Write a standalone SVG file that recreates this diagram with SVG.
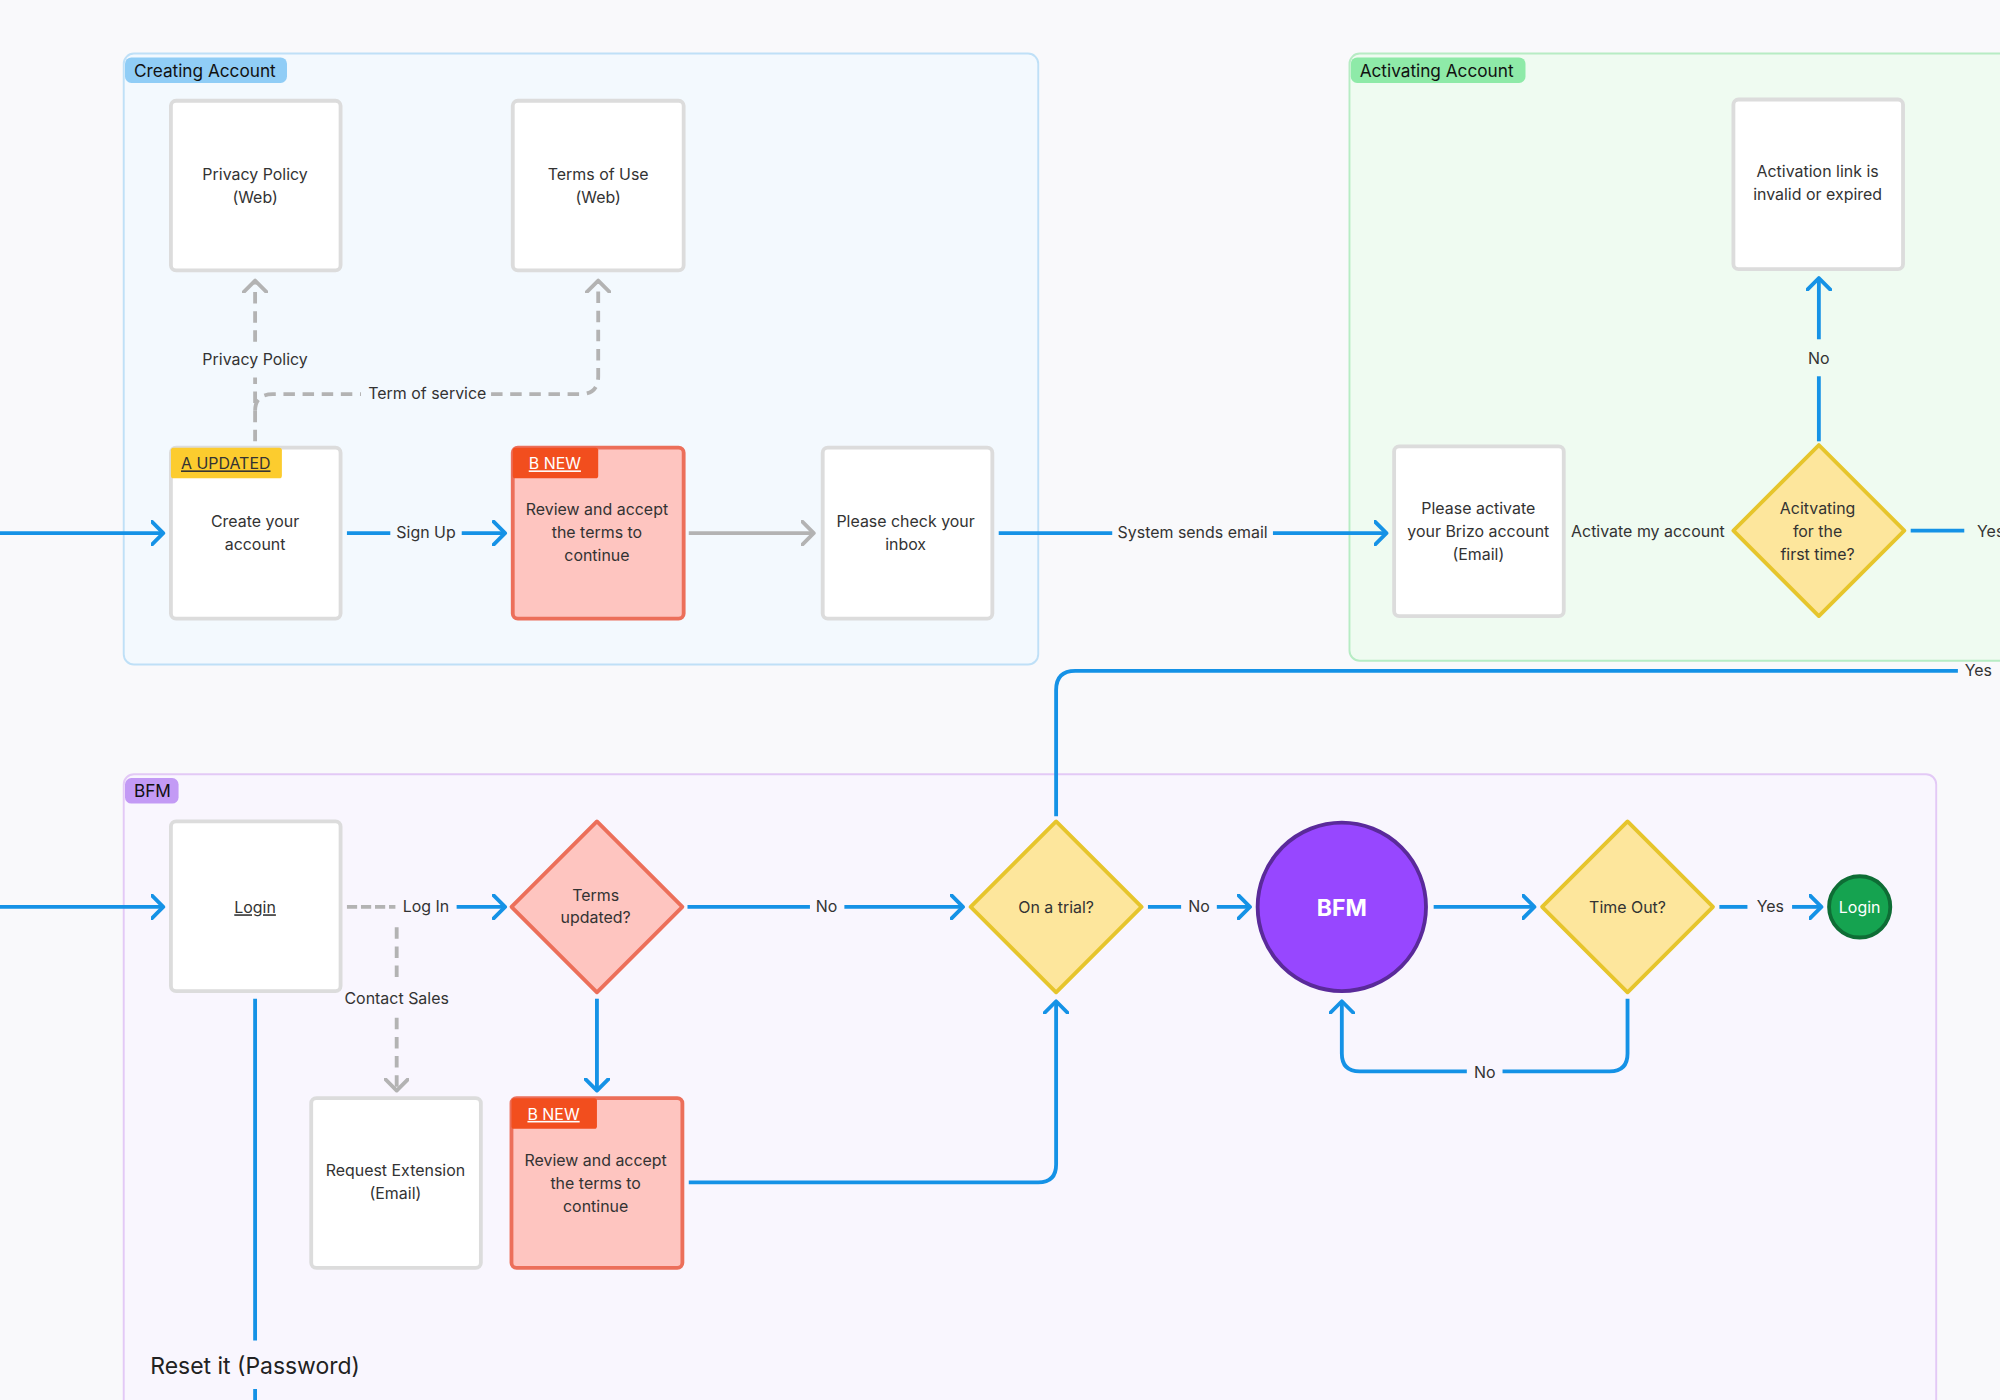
<svg xmlns="http://www.w3.org/2000/svg" width="2000" height="1400" viewBox="0 0 2000 1400">
<defs>
<marker id="ab" markerUnits="userSpaceOnUse" viewBox="0 0 12 20" markerWidth="12" markerHeight="20" refX="10" refY="10" orient="auto"><path d="M1,1 L10,10 L1,19" fill="none" stroke="#1592e6" stroke-width="3" stroke-linecap="round" stroke-linejoin="round"/></marker>
<marker id="ag" markerUnits="userSpaceOnUse" viewBox="0 0 12 20" markerWidth="12" markerHeight="20" refX="10" refY="10" orient="auto"><path d="M1,1 L10,10 L1,19" fill="none" stroke="#b3b3b3" stroke-width="3" stroke-linecap="round" stroke-linejoin="round"/></marker>
<style>
text{font-family:Inter,"Noto Sans",sans-serif;font-size:12.5px;fill:#333;text-anchor:middle}
.box{fill:#fff;stroke:#dcdcdc;stroke-width:3}
.red{fill:#fec5c0;stroke:#ec6f5a;stroke-width:3}
.yel{fill:#fde69c;stroke:#e6c52c;stroke-width:3}
.b{fill:none;stroke:#1592e6;stroke-width:3}
.g{fill:none;stroke:#b3b3b3;stroke-width:3;stroke-dasharray:9 6}
.gs{fill:none;stroke:#b3b3b3;stroke-width:3}
.tag{font-size:13.5px;text-anchor:start;fill:#111}
</style>
</defs>
<rect width="2000" height="1400" fill="#f9f9fb"/>
<g transform="scale(1.2755)">
<g id="grp-creating">
<rect x="97" y="42" width="717" height="479" rx="8" fill="#f3f9fe" stroke="#bfe0f7" stroke-width="1.5"/>
<rect x="98" y="45" width="127" height="20" rx="5" fill="#90cdf6"/>
<text x="105" y="60" class="tag">Creating Account</text>
</g>
<g id="grp-activating">
<rect x="1058" y="42" width="540" height="476" rx="8" fill="#effbf1" stroke="#b7ecc4" stroke-width="1.5"/>
<rect x="1059" y="45" width="137" height="20" rx="5" fill="#8eeaa8"/>
<text x="1066" y="60" class="tag">Activating Account</text>
</g>
<g id="grp-bfm">
<rect x="97" y="607" width="1421" height="520" rx="8" fill="#f9f6fe" stroke="#e3c9f6" stroke-width="1.5"/>
<rect x="98" y="610" width="42" height="20" rx="5" fill="#c39af5"/>
<text x="105" y="625" class="tag">BFM</text>
</g>

<g id="connectors">
<path class="b" d="M0,418 H128" marker-end="url(#ab)"/>
<path class="b" d="M272,418 H306"/><path class="b" d="M362,418 H396" marker-end="url(#ab)"/>
<path class="gs" d="M540,418 H638" marker-end="url(#ag)"/>
<path class="b" d="M783,418 H872"/><path class="b" d="M998,418 H1087" marker-end="url(#ab)"/>
<path class="b" d="M1498,416 H1540"/>
<path class="b" d="M1426,346 V295"/><path class="b" d="M1426,266 V218" marker-end="url(#ab)"/>
<path class="b" d="M828,640 V541 Q828,526 843,526 H1535"/>
<path class="g" d="M200,346 V296"/><path class="g" d="M200,268 V220" marker-end="url(#ag)"/>
<path class="g" d="M200,322 Q200,309 214,309 H283"/><path class="g" d="M385,309 H455 Q469,309 469,295 V220" marker-end="url(#ag)"/>
<path class="b" d="M0,711 H128" marker-end="url(#ab)"/>
<path class="gs" d="M272,711 H310" stroke-dasharray="8 3"/><path class="b" d="M358,711 H396" marker-end="url(#ab)"/>
<path class="g" d="M311,727 V769"/><path class="g" d="M311,798 V855" marker-end="url(#ag)"/>
<path class="b" d="M539,711 H635"/><path class="b" d="M662,711 H755" marker-end="url(#ab)"/>
<path class="b" d="M468,783 V855" marker-end="url(#ab)"/>
<path class="b" d="M540,927 H814 Q828,927 828,913 V785" marker-end="url(#ab)"/>
<path class="b" d="M900,711 H926"/><path class="b" d="M954,711 H980" marker-end="url(#ab)"/>
<path class="b" d="M1124,711 H1203" marker-end="url(#ab)"/>
<path class="b" d="M1348,711 H1370"/><path class="b" d="M1405,711 H1428" marker-end="url(#ab)"/>
<path class="b" d="M1276,783 V826 Q1276,840 1262,840 H1178"/><path class="b" d="M1150,840 H1066 Q1052,840 1052,826 V785" marker-end="url(#ab)"/>
<path class="b" d="M200,783 V1051"/><path class="b" d="M200,1089 V1098"/>
<text x="334" y="422">Sign Up</text>
<text x="935" y="422">System sends email</text>
<text x="1292" y="421">Activate my account</text>
<text x="1558" y="421" style="text-anchor:start" transform="translate(-8,0)">Yes</text>
<text x="1426" y="285">No</text>
<text x="1551" y="530">Yes</text>
<text x="200" y="286">Privacy Policy</text>
<text x="335" y="313">Term of service</text>
<text x="334" y="715">Log In</text>
<text x="311" y="787">Contact Sales</text>
<text x="648" y="715">No</text>
<text x="940" y="715">No</text>
<text x="1388" y="715">Yes</text>
<text x="1164" y="845">No</text>
<text x="200" y="1077" style="font-size:18px;fill:#222">Reset it (Password)</text>
</g>

<g id="n-privacy"><rect class="box" x="134" y="79" width="133" height="133" rx="4"/><text x="200" y="141">Privacy Policy</text><text x="200" y="159">(Web)</text></g>
<g id="n-terms"><rect class="box" x="402" y="79" width="134" height="133" rx="4"/><text x="469" y="141">Terms of Use</text><text x="469" y="159">(Web)</text></g>
<g id="n-create"><rect class="box" x="134" y="351" width="133" height="134" rx="4"/><rect x="134" y="351" width="87" height="24" rx="2" fill="#fccc2e"/><text x="177" y="368" style="text-decoration:underline;fill:#333">A UPDATED</text><text x="200" y="413">Create your</text><text x="200" y="431">account</text></g>
<g id="n-review1"><rect class="red" x="402" y="351" width="134" height="134" rx="4"/><rect x="402" y="351" width="67" height="24" rx="2" fill="#f24e1e"/><text x="435" y="368" style="text-decoration:underline;fill:#fff">B NEW</text><text x="468" y="404">Review and accept</text><text x="468" y="422">the terms to</text><text x="468" y="440">continue</text></g>
<g id="n-inbox"><rect class="box" x="645" y="351" width="133" height="134" rx="4"/><text x="710" y="413">Please check your</text><text x="710" y="431">inbox</text></g>
<g id="n-activate"><rect class="box" x="1093" y="350" width="133" height="133" rx="4"/><text x="1159" y="403">Please activate</text><text x="1159" y="421">your Brizo account</text><text x="1159" y="439">(Email)</text></g>
<g id="n-invalid"><rect class="box" x="1359" y="78" width="133" height="133" rx="4"/><text x="1425" y="139">Activation link is</text><text x="1425" y="157">invalid or expired</text></g>
<g id="n-firsttime"><path class="yel" d="M1426,349 L1493,416 L1426,483 L1359,416 Z" stroke-linejoin="round"/><text x="1425" y="403">Acitvating</text><text x="1425" y="421">for the</text><text x="1425" y="439">first time?</text></g>
<g id="n-login"><rect class="box" x="134" y="644" width="133" height="133" rx="4"/><text x="200" y="716" style="text-decoration:underline">Login</text></g>
<g id="n-termsupd"><path class="red" d="M468,644 L535,711 L468,778 L401,711 Z" stroke-linejoin="round"/><text x="467" y="706">Terms</text><text x="467" y="724">updated?</text></g>
<g id="n-reqext"><rect class="box" x="244" y="861" width="133" height="133" rx="4"/><text x="310" y="922">Request Extension</text><text x="310" y="940">(Email)</text></g>
<g id="n-review2"><rect class="red" x="401" y="861" width="134" height="133" rx="4"/><rect x="401" y="861" width="67" height="24" rx="2" fill="#f24e1e"/><text x="434" y="878" style="text-decoration:underline;fill:#fff">B NEW</text><text x="467" y="914">Review and accept</text><text x="467" y="932">the terms to</text><text x="467" y="950">continue</text></g>
<g id="n-trial"><path class="yel" d="M828,644 L895,711 L828,778 L761,711 Z" stroke-linejoin="round"/><text x="828" y="716">On a trial?</text></g>
<g id="n-bfm"><circle cx="1052" cy="711" r="66" fill="#9747ff" stroke="#5a2a9a" stroke-width="3"/><text x="1052" y="718" style="font-size:18px;font-weight:bold;fill:#fff">BFM</text></g>
<g id="n-timeout"><path class="yel" d="M1276,644 L1343,711 L1276,778 L1209,711 Z" stroke-linejoin="round"/><text x="1276" y="716">Time Out?</text></g>
<g id="n-login2"><circle cx="1458" cy="711" r="24" fill="#15a350" stroke="#0e6d35" stroke-width="3"/><text x="1458" y="716" style="fill:#fff">Login</text></g>
</g>
</svg>
